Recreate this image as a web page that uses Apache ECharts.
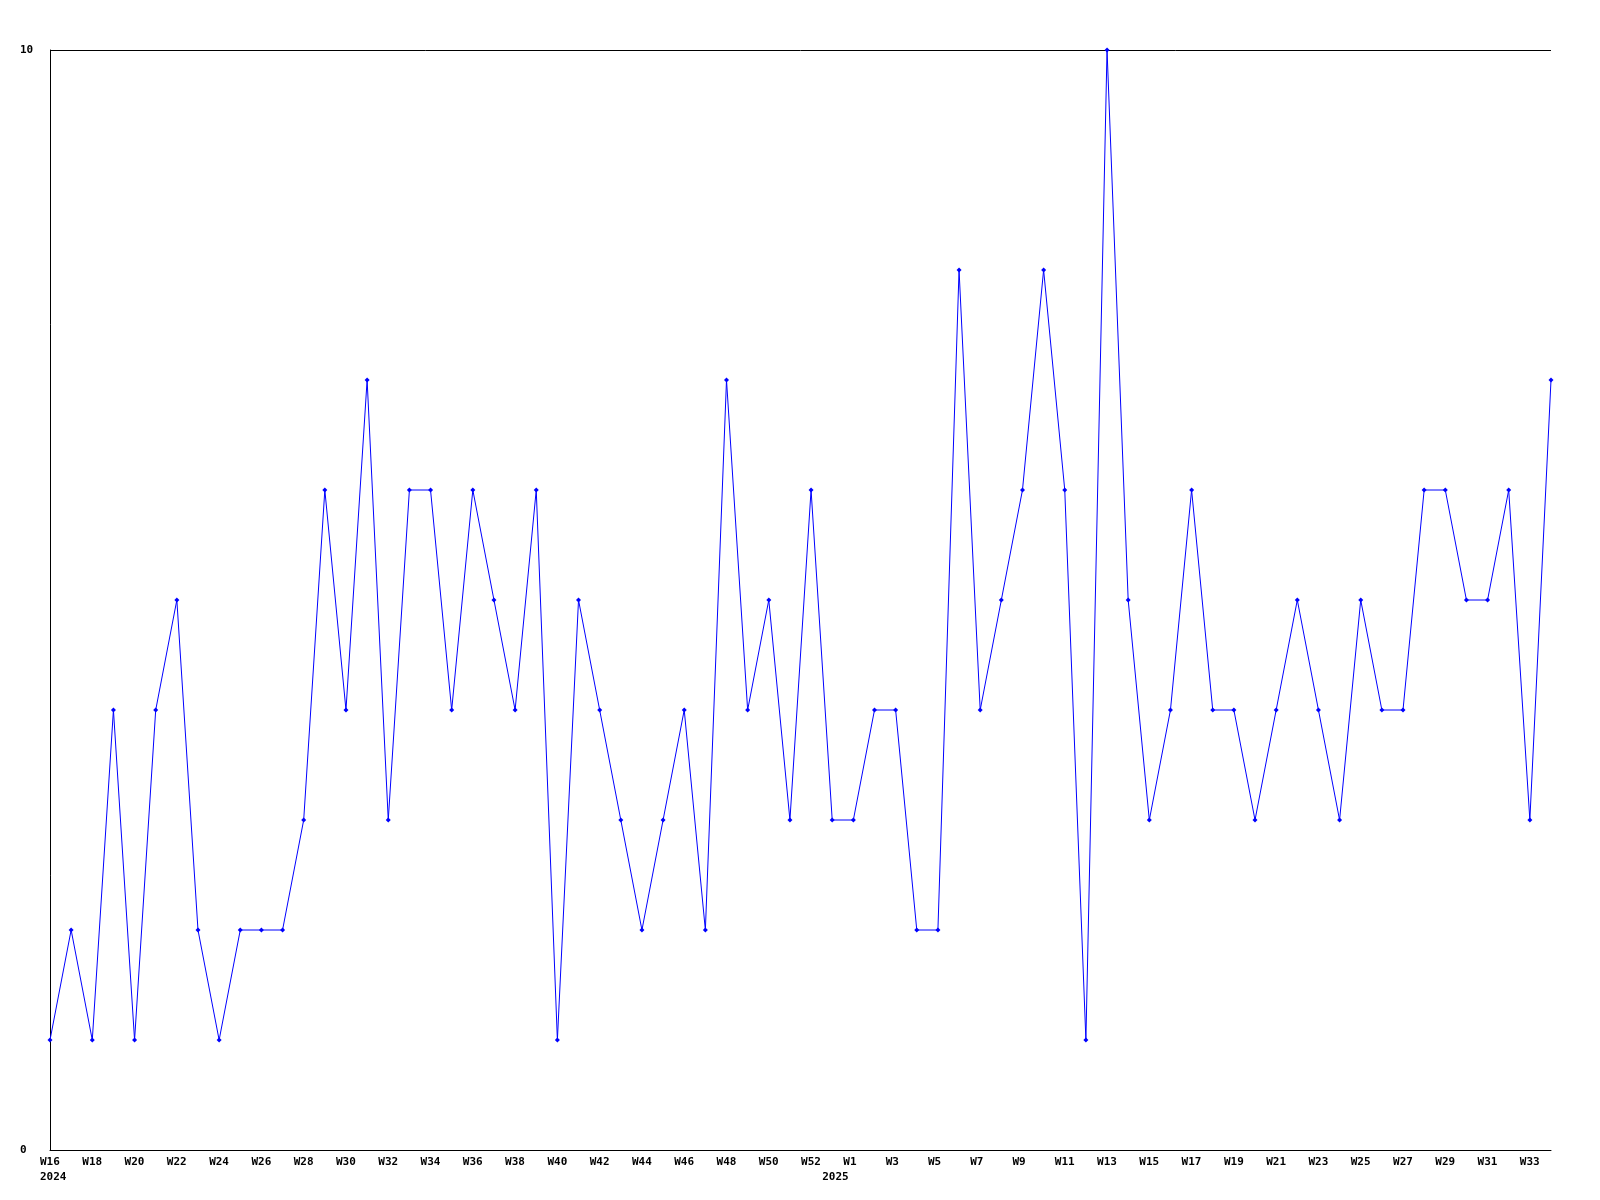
<!DOCTYPE html>
<html>
<head>
<meta charset="utf-8">
<script src="https://cdn.jsdelivr.net/npm/echarts@6/dist/echarts.min.js"></script>
<style>
html,body{margin:0;padding:0;background:#fff;}
#chart{width:1600px;height:1200px;}
</style>
</head>
<body>
<div id="chart"></div>
<script>
// Week categories: 2024 W16..W53, 2025 W1..W34
const weeks2024 = ["W16","W17","W18","W19","W20","W21","W22","W23","W24","W25","W26","W27","W28","W29","W30","W31","W32","W33","W34","W35","W36","W37","W38","W39","W40","W41","W42","W43","W44","W45","W46","W47","W48","W49","W50","W51","W52","W53"];
const weeks2025 = ["W1","W2","W3","W4","W5","W6","W7","W8","W9","W10","W11","W12","W13","W14","W15","W16","W17","W18","W19","W20","W21","W22","W23","W24","W25","W26","W27","W28","W29","W30","W31","W32","W33","W34"];
const yearLabels = {0: "2024", 37: "2025"};
const values = [1,2,1,4,1,4,5,2,1,2,2,2,3,6,4,7,3,6,6,4,6,5,4,6,1,5,4,3,2,3,4,2,7,4,5,3,6,3,3,4,4,2,2,8,4,5,6,8,6,1,10,5,3,4,6,4,4,3,4,5,4,3,5,4,4,6,6,5,5,6,3,7];
const yTicks = [0, 10];

const categories = weeks2024.concat(weeks2025);
const FONT = "'DejaVu Sans Mono', monospace";

const chart = echarts.init(document.getElementById('chart'), null, {renderer: 'canvas'});
chart.setOption({
  animation: false,
  backgroundColor: '#ffffff',
  grid: [
    {left: 50, right: 49, top: 50, bottom: 50},
    {left: 40, right: 59, top: 50, bottom: 50}
  ],
  xAxis: [
    {
      type: 'category', gridIndex: 0, data: categories, boundaryGap: false,
      axisLine: {show: true, lineStyle: {color: '#000', width: 1}},
      axisTick: {show: false},
      axisLabel: {show: false},
      splitLine: {show: false}
    },
    {
      type: 'category', gridIndex: 1, data: categories, boundaryGap: false,
      axisLine: {show: false},
      axisTick: {show: false},
      splitLine: {show: false},
      axisLabel: {
        show: true,
        align: 'left',
        margin: 5,
        color: '#000',
        fontFamily: FONT,
        fontWeight: 'bold',
        fontSize: 11,
        lineHeight: 15,
        interval: function (idx) { return idx % 2 === 0 || yearLabels[idx] !== undefined; },
        formatter: function (val, idx) {
          const top = (idx % 2 === 0) ? val : '';
          const yr = yearLabels[idx] !== undefined ? yearLabels[idx] : '';
          return yr ? top + '\n' + yr : top;
        }
      }
    }
  ],
  yAxis: [
    {
      type: 'value', gridIndex: 0, min: yTicks[0], max: yTicks[1], interval: 10,
      axisLine: {show: true, lineStyle: {color: '#000', width: 1}},
      axisTick: {show: false},
      splitLine: {show: true, lineStyle: {color: '#000', width: 1}},
      axisLabel: {
        show: true, align: 'left', margin: 30, color: '#000',
        fontFamily: FONT, fontWeight: 'bold', fontSize: 11
      }
    },
    {
      type: 'value', gridIndex: 1, min: 0, max: 10, show: false
    }
  ],
  series: [{
    type: 'line',
    xAxisIndex: 0, yAxisIndex: 0,
    data: values,
    symbol: 'diamond',
    symbolSize: 5,
    showAllSymbol: true,
    lineStyle: {color: '#0000ff', width: 1},
    itemStyle: {color: '#0000ff'}
  }]
});
</script>
</body>
</html>
